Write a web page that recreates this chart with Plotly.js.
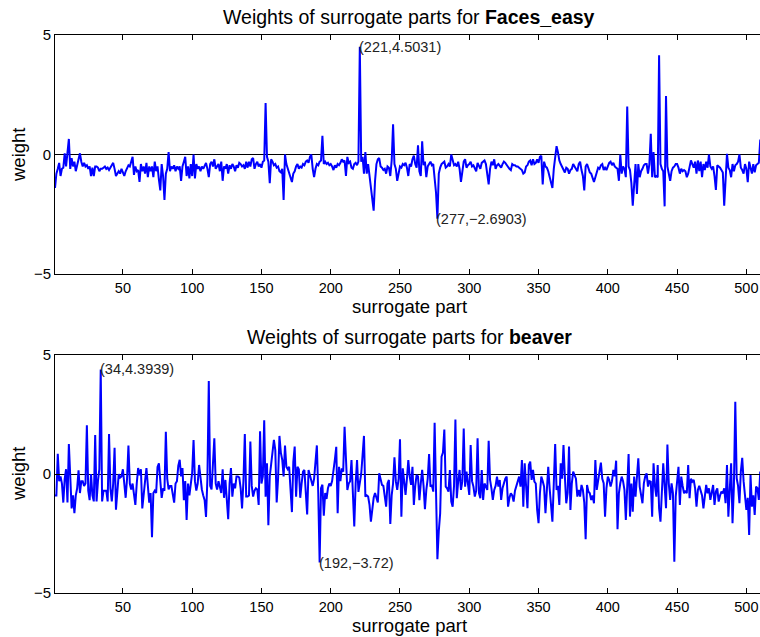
<!DOCTYPE html>
<html>
<head>
<meta charset="utf-8">
<script src="https://cdn.plot.ly/plotly-3.0.1.min.js"></script>
<style>html,body{margin:0;padding:0;overflow:hidden;background:#fff}</style>
</head>
<body>
<div id="chart" style="width:763px;height:637px"></div>
<script>
// Weights of the 512 surrogate parts
const facesEasy = [
-1.4,-0.8,-0.6,-0.35,-0.9,-0.6,-0.55,0.05,-0.5,0.05,
0.65,-0.6,-0.15,-0.5,-0.3,-0.7,-0.4,-0.2,0.05,-0.3,
-0.5,-0.35,-0.5,-0.45,-0.6,-0.5,-0.9,-0.55,-0.9,-0.5,
-0.5,-0.55,-0.7,-0.6,-0.6,-0.55,-0.5,-0.6,-0.55,-0.65,
-0.55,-0.5,-0.35,-0.6,-0.9,-0.8,-0.7,-0.8,-0.6,-0.75,
-0.9,-0.7,-0.55,-0.45,-0.5,-0.3,-0.1,-0.85,-0.5,-0.7,
-0.65,-1.15,-0.4,-0.7,-0.5,-0.8,-0.35,-0.95,-0.5,-0.7,
-0.5,-0.95,-0.3,-0.7,-0.5,-1.05,-1.5,-0.4,-0.9,-1.9,
-0.8,-0.6,0.1,-0.7,-0.5,-0.6,-0.45,-0.7,-0.5,-0.6,
-0.5,-1.1,-0.5,-0.3,-0.1,-0.9,-0.5,-1.0,-0.4,-0.9,
0.0,-1.0,-0.4,-0.6,-0.5,-0.7,-0.5,-0.6,-0.5,-0.35,
-0.6,-0.95,-0.4,-0.3,-0.5,-0.2,-0.6,-0.5,-0.4,-0.7,
-0.3,-1.1,-0.5,-0.6,-0.4,-0.8,-0.45,-0.6,-0.4,-0.5,
-0.7,-0.45,-0.55,-0.35,-0.4,-0.5,-0.45,-0.6,-0.3,-0.55,
-0.3,-0.5,-0.2,-0.15,-0.6,-0.4,-0.3,-0.5,-0.4,-0.55,
-0.3,-0.25,2.15,-0.1,-0.3,-1.2,-0.2,-0.3,-0.45,-0.4,
-0.55,-0.5,-0.7,-0.75,-0.6,-1.9,0.0,-0.4,-0.6,-0.85,
-0.95,-1.15,-0.8,-0.7,-0.5,-0.4,-0.6,-0.5,-0.55,-0.4,
-0.45,-0.3,-0.25,-0.35,-0.1,0.0,-0.6,-0.95,-0.6,-0.4,
-0.45,-0.3,-0.25,0.78,-0.4,-0.3,-0.4,-0.35,-0.45,-0.4,
-0.5,-0.65,-0.45,-0.55,-0.4,-0.45,-0.35,-0.2,-0.3,-0.25,
-0.9,-0.1,-0.35,-0.3,-0.55,-0.6,-0.4,-0.35,-0.45,-0.3,
4.5031,-0.3,-0.1,-0.8,0.1,-0.8,-0.4,-0.9,-1.35,-1.9,
-2.35,-1.1,-0.4,-0.2,-0.15,-0.5,-0.55,-0.65,-0.6,-0.8,
-0.5,-0.55,-0.9,-0.25,1.26,-0.4,-0.6,-1.1,-0.7,-0.5,
-0.55,-0.4,-0.45,-0.35,-0.55,-0.9,-0.4,-0.5,-0.2,-0.05,
-0.4,-0.55,0.38,-0.7,-0.9,0.55,-0.45,-0.3,-0.95,-0.5,
-0.4,-0.3,-0.45,-0.4,-1.0,-1.6,-2.6903,-0.8,-0.55,-0.4,
-0.35,-0.3,-0.55,-0.5,-0.4,-0.5,0.0,-0.3,-0.45,-0.4,
-0.5,-0.3,-0.6,-1.15,-0.8,-0.3,-0.2,-0.55,-0.45,-0.4,
-0.3,-0.5,-0.45,-0.6,-0.7,-0.35,-0.5,-0.6,-0.35,-0.3,
-0.25,-0.4,-0.9,-1.25,-0.6,-0.3,-0.45,-0.2,-0.6,-0.45,
-0.4,-0.5,-0.55,-0.4,-0.3,-0.35,-0.45,-0.55,-0.6,-0.65,
-0.4,-0.45,-0.45,-0.5,-0.5,-0.55,-0.6,-0.65,-0.8,-0.75,
-0.5,-0.45,-0.3,-0.25,-0.45,-0.2,-0.4,-0.35,-0.2,-0.35,
-0.1,-0.05,-1.25,-0.3,-0.5,-0.55,-0.7,-0.9,-1.1,-1.4,
-0.6,-0.2,0.35,0.1,-0.25,-0.4,-0.5,-0.6,-0.75,-0.55,
-0.6,-0.8,-0.65,-0.6,-0.4,-0.5,-0.6,-0.7,-0.4,-0.3,
-0.65,-0.9,-1.5,-0.5,-0.4,-0.6,-0.75,-0.8,-0.95,-1.15,
-0.95,-0.7,-0.55,-0.6,-0.45,-0.4,-0.65,-0.55,-0.65,-0.5,
-0.35,-0.3,-0.45,-0.35,-0.5,-0.55,-0.6,-1.1,0.0,-0.8,
-0.5,-0.6,-0.95,2.01,-0.5,-0.65,-1.2,-2.14,-1.2,-0.4,
-1.65,-0.4,-0.95,-0.7,-0.6,-0.45,-0.4,-0.4,-0.8,-0.4,
0.87,-0.95,0.1,-0.95,-0.9,-0.95,4.15,-0.4,-0.6,-0.7,
-2.17,2.45,-0.5,-0.9,-1.1,-0.7,-0.55,-0.5,-0.4,-0.4,
-0.55,-0.8,-0.6,-0.7,-0.65,-0.7,-0.95,-0.8,-0.5,-0.25,
-0.4,-0.55,-0.3,-0.8,-0.25,-0.7,-0.3,-0.95,-0.4,-0.65,
-0.3,-0.55,0.0,-0.5,-0.6,-0.5,-0.9,-1.48,-0.45,-0.5,
-0.55,-0.65,-0.75,-2.14,-0.9,0.03,-0.55,-0.65,-0.95,-0.4,
-0.7,-0.45,-0.4,-0.3,0.0,-0.55,-0.65,-0.8,-0.4,-0.6,
-1.16,-0.3,-0.55,-0.8,-0.4,-0.75,-0.45,-0.4,-0.35,0.59,
0.6,0.2
];
const beaver = [
-0.9,-0.9,0.85,-0.3,-0.1,-0.4,-1.2,-0.2,0.2,-1.2,
1.26,-0.4,-1.45,-0.9,-1.65,-0.9,-0.6,0.15,-0.8,-0.3,
-0.3,-0.5,-0.4,2.05,-0.7,-1.1,0.0,-0.9,-1.15,1.64,
-1.15,-0.3,0.2,4.3939,-1.15,-0.7,-0.7,-0.7,-1.15,1.68,
-0.6,-1.15,-0.4,1.1,-1.5,-0.5,0.0,-0.15,-0.1,0.2,
-0.6,-1.0,-0.2,1.2,-0.4,-0.65,-0.4,-0.9,-1.3,-0.4,
0.25,-0.05,0.2,-1.45,-0.7,-0.3,0.25,-0.6,-1.2,-0.8,
-2.66,-0.8,-0.7,-0.8,0.3,0.45,-0.3,-1.0,-0.6,-0.7,
1.77,-0.2,-0.65,-0.5,-0.5,-0.9,-1.2,-0.4,-0.3,0.35,
0.6,-0.1,0.25,-1.1,-0.3,-1.93,-0.4,-0.9,-0.4,0.05,
1.43,-0.3,-0.7,-0.4,0.38,-0.3,-0.65,-0.9,-1.1,-1.8,
-0.2,3.91,-0.5,-0.65,0.5,1.5,-0.4,-0.65,-0.3,-0.5,
-0.8,0.2,-1.0,-0.25,-0.9,-1.9,-0.4,0.25,-0.95,-0.4,
-0.6,-0.1,-0.1,-0.15,-0.6,-1.45,-0.3,1.68,-0.95,-0.95,
-0.9,1.36,-0.5,-0.95,-0.7,-0.6,-0.65,-1.3,1.8,-0.4,
-0.1,2.26,-0.95,0.45,-2.15,-0.1,0.4,0.9,1.43,1.0,
-1.2,-0.2,1.6,0.9,0.6,-0.1,1.2,0.3,0.2,0.3,
-0.5,-1.6,0.5,1.15,-0.95,0.3,0.2,-1.0,-0.4,0.1,
0.17,-0.6,-1.7,0.17,-0.1,-0.3,-0.5,-0.2,0.5,1.2,
-0.8,-3.72,-0.6,-0.45,-1.75,-0.8,-1.05,-0.6,-0.4,-0.5,
-0.3,0.3,0.6,1.14,-1.65,0.3,-0.3,0.24,0.1,1.98,
0.3,-0.67,-0.4,-0.3,0.59,-0.6,-2.2,-0.4,0.59,-0.75,
-0.4,0.0,0.8,1.6,-0.95,-0.9,-0.95,-1.3,-2.0,-1.37,
-1.0,-0.8,-1.0,-1.2,0.03,-0.3,-0.46,-0.5,-1.0,-1.37,
-0.4,-0.25,-2.1,-0.9,-0.4,0.7,-0.3,-0.67,-0.2,1.46,
-1.8,0.24,-0.3,-0.88,-0.2,0.59,-0.1,-0.46,0.3,-1.3,
-0.5,-0.04,-0.1,-1.1,-0.4,0.17,-0.5,-1.48,-0.67,-0.2,
0.84,-0.53,-0.46,-0.74,2.15,-0.8,-3.58,-2.4,-1.65,0.73,
0.9,1.87,-0.53,-0.6,-0.74,0.17,-1.16,-1.37,-0.5,2.29,
-1.02,-0.3,0.17,-0.67,-0.3,1.91,-0.53,0.1,-0.4,-0.88,
1.22,-0.3,-0.53,-0.95,-0.7,1.5,-0.8,-1.02,0.17,-1.09,
-0.4,-0.53,-0.67,1.4,-0.25,-0.6,-1.09,-0.67,-0.5,-0.11,
-0.53,-0.25,-1.09,-0.6,-0.39,-0.2,-0.11,-1.37,-1.0,-0.81,
-0.9,-1.16,-0.7,-0.53,-0.3,-0.11,-0.53,0.59,-1.37,0.45,
-0.5,-1.44,0.38,0.52,-0.25,0.17,-0.32,-0.4,-1.51,-2.07,
-0.8,-0.11,-0.3,-0.53,-1.65,-0.39,0.3,-0.6,-1.44,-2.0,
-0.4,1.26,-0.67,-0.5,-1.3,0.45,-0.2,1.22,-0.11,-1.23,
-0.8,1.15,-1.51,-0.4,0.1,-0.04,-0.2,-0.95,-0.67,-0.95,
-0.46,-0.67,-1.2,-2.74,-0.46,-0.74,-0.81,-1.09,-0.9,-1.23,
0.59,-0.67,-0.2,0.1,0.48,-0.2,-0.39,-1.79,-0.6,-0.11,
-0.25,-0.53,-0.3,0.17,-0.1,0.56,-2.32,-0.8,-0.39,-0.11,
-0.3,-0.67,-1.93,-0.5,0.84,-1.79,-0.4,-1.58,-0.11,-0.95,
-0.3,0.66,-0.53,-0.9,-1.23,-0.39,-0.1,0.03,-0.53,-0.3,
-0.32,-1.79,0.45,-0.5,-0.95,0.38,-1.44,-2.0,-0.8,0.45,
-0.5,-1.44,1.24,-0.4,-1.09,-0.39,-0.8,-3.69,-0.95,-0.3,
0.3,-1.3,-0.11,-0.5,-0.81,-0.7,-0.81,0.38,-1.02,-0.2,
-0.32,-0.25,-0.6,-1.37,-0.67,-0.5,-0.67,-0.9,-1.44,-0.8,
-0.46,-0.81,-0.6,-1.09,-0.7,-0.46,-1.3,-0.74,-0.6,-1.16,
-0.9,-0.74,-0.81,-0.6,-1.23,0.38,-1.79,-0.3,0.45,-2.07,
-0.5,3.03,-0.18,-0.5,-1.23,0.1,0.68,-0.3,-0.95,-1.51,
-1.0,-2.56,-0.04,-1.37,-0.9,-1.72,-0.53,-0.6,-1.09,0.1,
-0.2,-0.1
];
const xTicks = [50,100,150,200,250,300,350,400,450,500];
const yTicks = [-5,0,5];
const facesMarks = [[221,4.5031,"(221,4.5031)"],[277,-2.6903,"(277,\u22122.6903)"]];
const beaverMarks = [[34,4.3939,"(34,4.3939)"],[192,-3.72,"(192,\u22123.72)"]];

const partsA = facesEasy.map((_, i) => i + 1);
const partsB = beaver.map((_, i) => i + 1);

const FONT = "Liberation Sans, Arial, Helvetica, sans-serif";
const lineStyle = {color: "rgb(0,0,255)", width: 2};

const data = [
  {x: partsA, y: facesEasy, type: "scatter", mode: "lines", line: lineStyle, xaxis: "x", yaxis: "y", hoverinfo: "skip"},
  {x: partsB, y: beaver, type: "scatter", mode: "lines", line: lineStyle, xaxis: "x2", yaxis: "y2", hoverinfo: "skip"}
];

function xAx(anchor) {
  return {
    anchor: anchor, domain: [0, 1], range: [1, 512],
    tickmode: "array", tickvals: xTicks, ticks: "inside", ticklen: 5, tickcolor: "#000",
    showline: true, linecolor: "#000", linewidth: 1, mirror: "ticks",
    showgrid: false, zeroline: false, ticklabelstandoff: 1,
    tickfont: {family: FONT, size: 14.5, color: "#000"}
  };
}
function yAx(anchor, dom) {
  return {
    anchor: anchor, domain: dom, range: [-5, 5],
    tickmode: "array", tickvals: yTicks, ticks: "inside", ticklen: 5, tickcolor: "#000",
    showline: true, linecolor: "#000", linewidth: 1, mirror: "ticks",
    showgrid: false, zeroline: true, zerolinecolor: "#000", zerolinewidth: 1,
    tickfont: {family: FONT, size: 15, color: "#000"}
  };
}

const W = 763, H = 637, L = 55;
const px = X => (X - L) / (W - L);
const py = Y => (H - Y) / H;
const TS = 19.5;
const LS = 18.5;

const annotations = [
  {xref: "paper", yref: "paper", x: 0.5, y: py(17), text: "Weights of surrogate parts for <b>Faces_easy</b>", showarrow: false, xanchor: "center", yanchor: "middle", font: {family: FONT, size: TS, color: "#000"}},
  {xref: "paper", yref: "paper", x: 0.5, y: py(306.5), text: "surrogate part", showarrow: false, xanchor: "center", yanchor: "middle", font: {family: FONT, size: LS, color: "#000"}},
  {xref: "paper", yref: "paper", x: px(18), y: py(155), text: "weight", textangle: -90, showarrow: false, xanchor: "center", yanchor: "middle", font: {family: FONT, size: LS, color: "#000"}},
  {xref: "paper", yref: "paper", x: 0.5, y: py(337), text: "Weights of surrogate parts for <b>beaver</b>", showarrow: false, xanchor: "center", yanchor: "middle", font: {family: FONT, size: TS, color: "#000"}},
  {xref: "paper", yref: "paper", x: 0.5, y: py(625.5), text: "surrogate part", showarrow: false, xanchor: "center", yanchor: "middle", font: {family: FONT, size: LS, color: "#000"}},
  {xref: "paper", yref: "paper", x: px(18), y: py(474), text: "weight", textangle: -90, showarrow: false, xanchor: "center", yanchor: "middle", font: {family: FONT, size: LS, color: "#000"}}
];
facesMarks.forEach(m => annotations.push({xref: "x", yref: "y", x: m[0], y: m[1], text: m[2], showarrow: false, xanchor: "left", yanchor: "middle", xshift: -2, borderpad: 0, font: {family: FONT, size: 14.5, color: "#222"}}));
beaverMarks.forEach(m => annotations.push({xref: "x2", yref: "y2", x: m[0], y: m[1], text: m[2], showarrow: false, xanchor: "left", yanchor: "middle", xshift: -2, borderpad: 0, font: {family: FONT, size: 14.5, color: "#222"}}));

const layout = {
  width: W, height: H,
  margin: {l: L, r: 0, t: 0, b: 0},
  paper_bgcolor: "#fff", plot_bgcolor: "#fff",
  showlegend: false,
  xaxis: xAx("y"),
  yaxis: yAx("x", [py(274), py(35)]),
  xaxis2: xAx("y2"),
  yaxis2: yAx("x2", [py(593), py(355)]),
  annotations: annotations
};

Plotly.newPlot("chart", data, layout, {displayModeBar: false, staticPlot: true});
</script>
</body>
</html>
